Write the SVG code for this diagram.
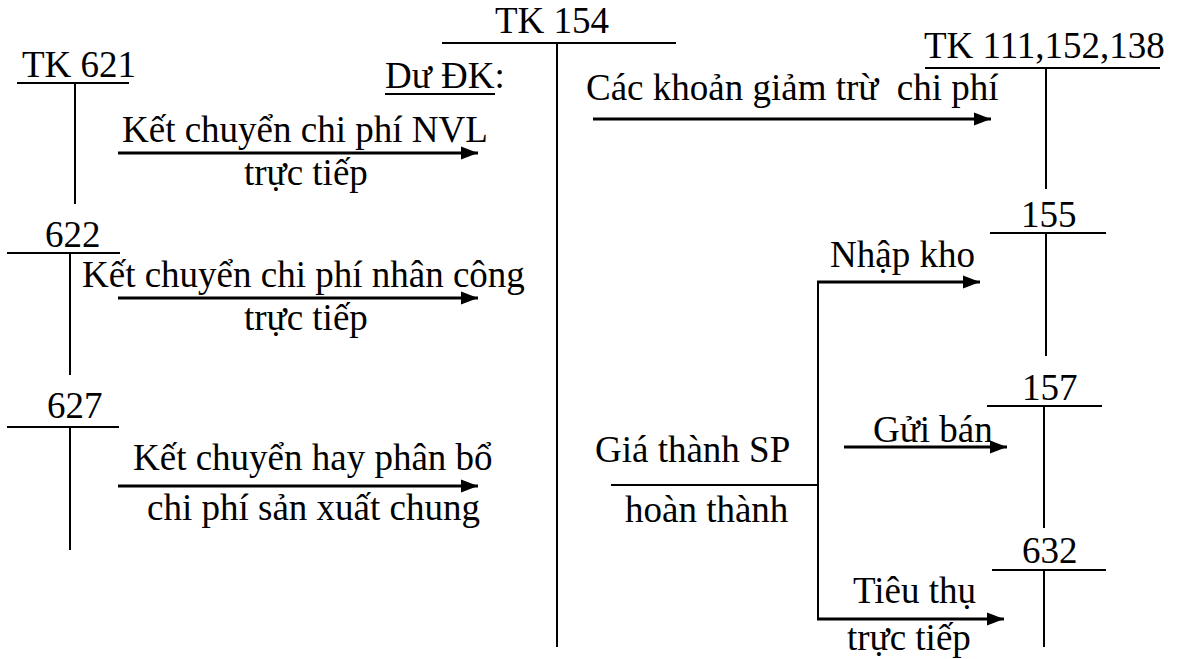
<svg xmlns="http://www.w3.org/2000/svg" width="1177" height="659" viewBox="0 0 1177 659">
<style>
text{font-family:"Liberation Serif","Times New Roman",serif;font-size:37px;fill:#000;white-space:pre}
.t{stroke:#000;stroke-width:2;fill:none}
.a{stroke:#000;stroke-width:3;fill:none;marker-end:url(#ah)}
.b{stroke:#000;stroke-width:2;fill:none}
</style>
<defs>
<marker id="ah" markerUnits="userSpaceOnUse" markerWidth="18" markerHeight="14" refX="17" refY="7" orient="auto">
<path d="M0,0.5 L17,7 L0,13.5 z" fill="#000"/>
</marker>
</defs>
<rect width="1177" height="659" fill="#fff"/>
<g id="tk154">
<text x="495" y="33">TK 154</text>
<line class="t" x1="442" y1="43" x2="676" y2="43"/>
<line class="t" x1="557" y1="43" x2="557" y2="647"/>
<text x="385" y="88">Dư ĐK:</text>
<line class="t" x1="385" y1="94" x2="495" y2="94" stroke-width="1.5"/>
</g>
<g id="tk621">
<text x="22" y="77">TK 621</text>
<line class="t" x1="17" y1="83" x2="129" y2="83"/>
<line class="t" x1="75" y1="83" x2="75" y2="204"/>
</g>
<g id="tk622">
<text x="45" y="247">622</text>
<line class="t" x1="7" y1="253" x2="120" y2="253"/>
<line class="t" x1="70" y1="253" x2="70" y2="375"/>
</g>
<g id="tk627">
<text x="47" y="418">627</text>
<line class="t" x1="7" y1="427" x2="119" y2="427"/>
<line class="t" x1="70" y1="427" x2="70" y2="550"/>
</g>
<g id="tk111">
<text x="924" y="58">TK 111,152,138</text>
<line class="t" x1="925" y1="68" x2="1160" y2="68"/>
<line class="t" x1="1046" y1="68" x2="1046" y2="189"/>
</g>
<g id="tk155">
<text x="1021" y="227">155</text>
<line class="t" x1="990" y1="233" x2="1106" y2="233"/>
<line class="t" x1="1046" y1="233" x2="1046" y2="356"/>
</g>
<g id="tk157">
<text x="1022" y="400">157</text>
<line class="t" x1="987" y1="406" x2="1102" y2="406"/>
<line class="t" x1="1044" y1="406" x2="1044" y2="528"/>
</g>
<g id="tk632">
<text x="1022" y="563">632</text>
<line class="t" x1="992" y1="570" x2="1106" y2="570"/>
<line class="t" x1="1044" y1="570" x2="1044" y2="647"/>
</g>
<g id="connectors">
<line class="a" x1="118" y1="153" x2="478" y2="153"/>
<line class="a" x1="118" y1="298" x2="478" y2="298"/>
<line class="a" x1="118" y1="486" x2="478" y2="486"/>
<line class="a" x1="593" y1="119" x2="991" y2="119"/>
<line class="b" x1="611" y1="485" x2="818" y2="485"/>
<line class="b" x1="818" y1="281" x2="818" y2="620"/>
<line class="a" x1="817" y1="282" x2="980" y2="282"/>
<line class="a" x1="844" y1="447" x2="1007" y2="447"/>
<line class="a" x1="817" y1="619" x2="1004" y2="619"/>
</g>
<g id="labels">
<text x="122" y="142">Kết chuyển chi phí NVL</text>
<text x="244" y="185">trực tiếp</text>
<text x="82" y="287">Kết chuyển chi phí nhân công</text>
<text x="244" y="330">trực tiếp</text>
<text x="133" y="470">Kết chuyển hay phân bổ</text>
<text x="147" y="520">chi phí sản xuất chung</text>
<text x="586" y="100">Các khoản giảm trừ  chi phí</text>
<text x="830" y="267">Nhập kho</text>
<text x="873" y="442">Gửi bán</text>
<text x="595" y="462">Giá thành SP</text>
<text x="625" y="522">hoàn thành</text>
<text x="853" y="603">Tiêu thụ</text>
<text x="847" y="650">trực tiếp</text>
</g>
</svg>
